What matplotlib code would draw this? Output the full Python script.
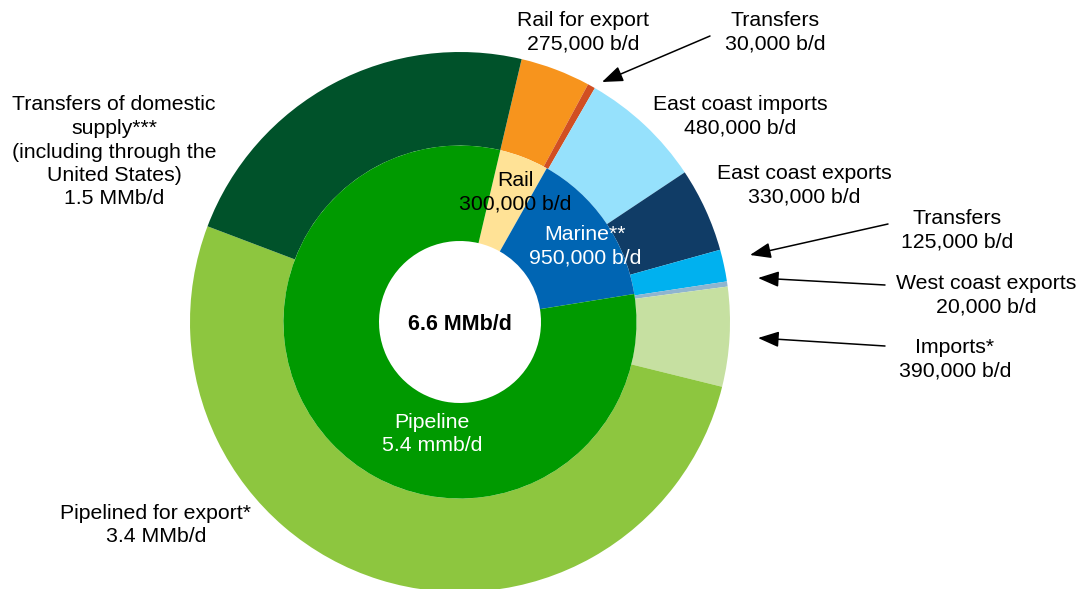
import matplotlib
matplotlib.use("Agg")
import matplotlib.pyplot as plt

plt.rcParams['font.family'] = ['Liberation Sans', 'DejaVu Sans']

# Outer ring: destinations (b/d)
outer_labels = ["Rail for export", "Transfers", "East coast imports", "East coast exports",
                "Transfers", "West coast exports", "Imports*", "Pipelined for export*",
                "Transfers of domestic supply***"]
outer_values = [275000, 30000, 480000, 330000, 125000, 20000, 390000, 3400000, 1500000]
outer_colors = ["#F7941D", "#D14F22", "#96E1FC", "#103C66", "#00B1EF", "#8FB5CF",
                "#C6E0A1", "#8DC63F", "#00522A"]

# Inner ring: transport mode (b/d)
inner_labels = ["Rail", "Marine**", "Pipeline"]
inner_values = [300000, 950000, 5400000]
inner_colors = ["#FFE296", "#0065B3", "#009A00"]

total_text = "6.6 MMb/d"

W, H = 1088, 589
fig = plt.figure(figsize=(W / 100, H / 100), dpi=100)
ax = fig.add_axes([0, 0, 1, 1])

cx, cy = 460, H - 322
r_outer, r_mid, r_hole = 270, 176.5, 81
start = 90 - 13.2

ax.pie(outer_values, radius=r_outer, center=(cx, cy), startangle=start, counterclock=False,
       colors=outer_colors, wedgeprops=dict(width=r_outer - r_mid, edgecolor='none', linewidth=0))
ax.pie(inner_values, radius=r_mid, center=(cx, cy), startangle=start, counterclock=False,
       colors=inner_colors, wedgeprops=dict(width=r_mid - r_hole, edgecolor='none', linewidth=0))

ax.set_xlim(0, W)
ax.set_ylim(0, H)
ax.set_aspect('equal')
ax.axis('off')

fs = 15.3


def px(x, y):
    return x, H - y


def label(x, y, s, color='black', weight='normal', size=fs):
    ax.text(*px(x, y), s, ha='center', va='center', fontsize=size, color=color,
            fontweight=weight, linespacing=1.3)


def arrow(x0, y0, x1, y1):
    ax.annotate("", xy=px(x1, y1), xytext=px(x0, y0),
                arrowprops=dict(arrowstyle="-|>,head_length=0.85,head_width=0.32",
                                mutation_scale=15, color='black', lw=1.1,
                                shrinkA=0, shrinkB=0))


def fmt(v):
    return f"{v:,} b/d"


# Outer labels
label(583, 32, f"{outer_labels[0]}\n{fmt(outer_values[0])}")
label(775, 32, f"{outer_labels[1]}\n{fmt(outer_values[1])}")
label(740, 116, f"{outer_labels[2]}\n{fmt(outer_values[2])}")
label(804, 185, f"{outer_labels[3]}\n{fmt(outer_values[3])}")
label(957, 230, f"{outer_labels[4]}\n{fmt(outer_values[4])}")
label(986, 295, f"{outer_labels[5]}\n{fmt(outer_values[5])}")
label(955, 359, f"{outer_labels[6]}\n{fmt(outer_values[6])}")
label(156, 525, f"{outer_labels[7]}\n{outer_values[7] / 1e6:.1f} MMb/d")
label(114, 152, "Transfers of domestic\nsupply***\n(including through the\nUnited States)\n"
      f"{outer_values[8] / 1e6:.1f} MMb/d")

arrow(710, 36, 602, 82)
arrow(888, 224, 750, 255)
arrow(885, 285, 758, 278)
arrow(885, 346, 758, 338)

# Inner labels
label(515, 192, f"{inner_labels[0]}\n{fmt(inner_values[0])}")
label(585, 246, f"{inner_labels[1]}\n{fmt(inner_values[1])}", color='white')
label(432, 434, f"{inner_labels[2]}\n{inner_values[2] / 1e6:.1f} mmb/d", color='white')

label(460, 325, total_text, weight='bold', size=15.5)

fig.savefig("out.png", dpi=100)
